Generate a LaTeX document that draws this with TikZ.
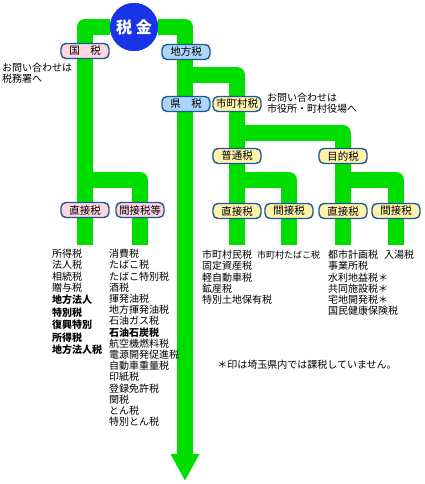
\documentclass[tikz,border=0pt]{standalone}
\usepackage{fontspec}
\setmainfont{Noto Sans CJK JP}
\usetikzlibrary{arrows.meta}
\definecolor{bandgreen}{RGB}{0,222,0}
\definecolor{boxline}{RGB}{28,88,150}
\definecolor{kokufill}{RGB}{255,214,224}
\definecolor{chihofill}{RGB}{172,214,248}
\definecolor{shifill}{RGB}{255,242,170}
\definecolor{zeiblue}{RGB}{24,52,230}
\begin{document}
\begin{tikzpicture}[x=1pt,y=1pt,
  font=\fontsize{10}{11.2}\selectfont,
  band/.style={draw=bandgreen,line width=16pt,line join=round},
  zbox/.style={draw=boxline,line width=1.4pt,rounded corners=5pt,
    minimum width=48pt,minimum height=15pt,inner sep=1pt,
    font=\fontsize{10.5}{11}\selectfont},
  kbox/.style={zbox,fill=kokufill},
  cbox/.style={zbox,fill=chihofill},
  sbox/.style={zbox,fill=shifill},
  zlist/.style={anchor=north west,align=left,inner sep=0pt},
  note/.style={anchor=north west,align=left,inner sep=0pt}]
\useasboundingbox (0,0) rectangle (424,-484);
\coordinate (kcEnd) at (85,-245);
\coordinate (kkEnd) at (140,-245);
\coordinate (kFork) at (85,-180);
\coordinate (cFork) at (185,-75);
\coordinate (sFork) at (237,-133);
\coordinate (fFork) at (237,-180);
\coordinate (mFork) at (343,-180);
\coordinate (fcEnd) at (237,-245);
\coordinate (fkEnd) at (289,-245);
\coordinate (mcEnd) at (343,-245);
\coordinate (mkEnd) at (396,-245);
\coordinate (kenEnd) at (185,-481);
\node[circle,fill=zeiblue,minimum size=48pt,inner sep=0pt] (zeikin) at (134,-27) {};
\draw[band] (kcEnd) |- (zeikin.west);
\draw[band,-{Triangle[width=27pt,length=27pt]}] (zeikin.east) -| (kenEnd);
\draw[band] (kFork) -| (kkEnd);
\draw[band] (cFork) -| (fcEnd);
\draw[band] (sFork) -| (mcEnd);
\draw[band] (fFork) -| (fkEnd);
\draw[band] (mFork) -| (mkEnd);
\node[circle,fill=zeiblue,minimum size=48pt,inner sep=0pt,text=white,
  font=\fontsize{16}{16}\selectfont\bfseries] at (zeikin) {税 金};
\node[kbox] (koku) at (85,-51) {国　税};
\node[cbox] (chiho) at (186,-52) {地方税};
\node[cbox] (ken) at (186,-104) {県　税};
\node[sbox] (shichoson) at (237,-104) {市町村税};
\node[sbox] (futsu) at (237,-156) {普通税};
\node[sbox] (mokuteki) at (343,-156) {目的税};
\node[kbox] (kchoku) at (85,-210) {直接税};
\node[kbox] (kkan) at (140,-210) {間接税等};
\node[sbox] (fchoku) at (237,-211) {直接税};
\node[sbox] (fkan) at (289,-211) {間接税};
\node[sbox] (mchoku) at (343,-211) {直接税};
\node[sbox] (mkan) at (396,-211) {間接税};
\node[note] (kokuNote) at (2,-63) {お問い合わせは\\税務署へ};
\node[note] (shiNote) at (267,-93) {お問い合わせは\\市役所・町村役場へ};
\node[zlist] (kchokuList) at (52,-249) {所得税\\法人税\\相続税\\贈与税\\[1.5pt]
  \textbf{地方法人}\\[1pt]\textbf{特別税}\\[1.5pt]\textbf{復興特別}\\[1pt]
  \textbf{所得税}\\[1pt]\textbf{地方法人税}};
\node[zlist] (kkanList) at (109,-249) {消費税\\たばこ税\\たばこ特別税\\酒税\\揮発油税\\
  地方揮発油税\\石油ガス税\\\textbf{石油石炭税}\\航空機燃料税\\電源開発促進税\\
  自動車重量税\\印紙税\\登録免許税\\関税\\とん税\\特別とん税};
\node[zlist] (fchokuList) at (202,-250) {市町村民税\\固定資産税\\軽自動車税\\鉱産税\\特別土地保有税};
\node[zlist,font=\fontsize{9}{11}\selectfont] (fkanList) at (257,-250.5) {市町村たばこ税};
\node[zlist] (mchokuList) at (328,-250) {都市計画税\\事業所税\\水利地益税＊\\共同施設税＊\\宅地開発税＊\\国民健康保険税};
\node[zlist] (mkanList) at (384,-250) {入湯税};
\node (chuki) at (307,-365) {＊印は埼玉県内では課税していません。};
\end{tikzpicture}
\end{document}
